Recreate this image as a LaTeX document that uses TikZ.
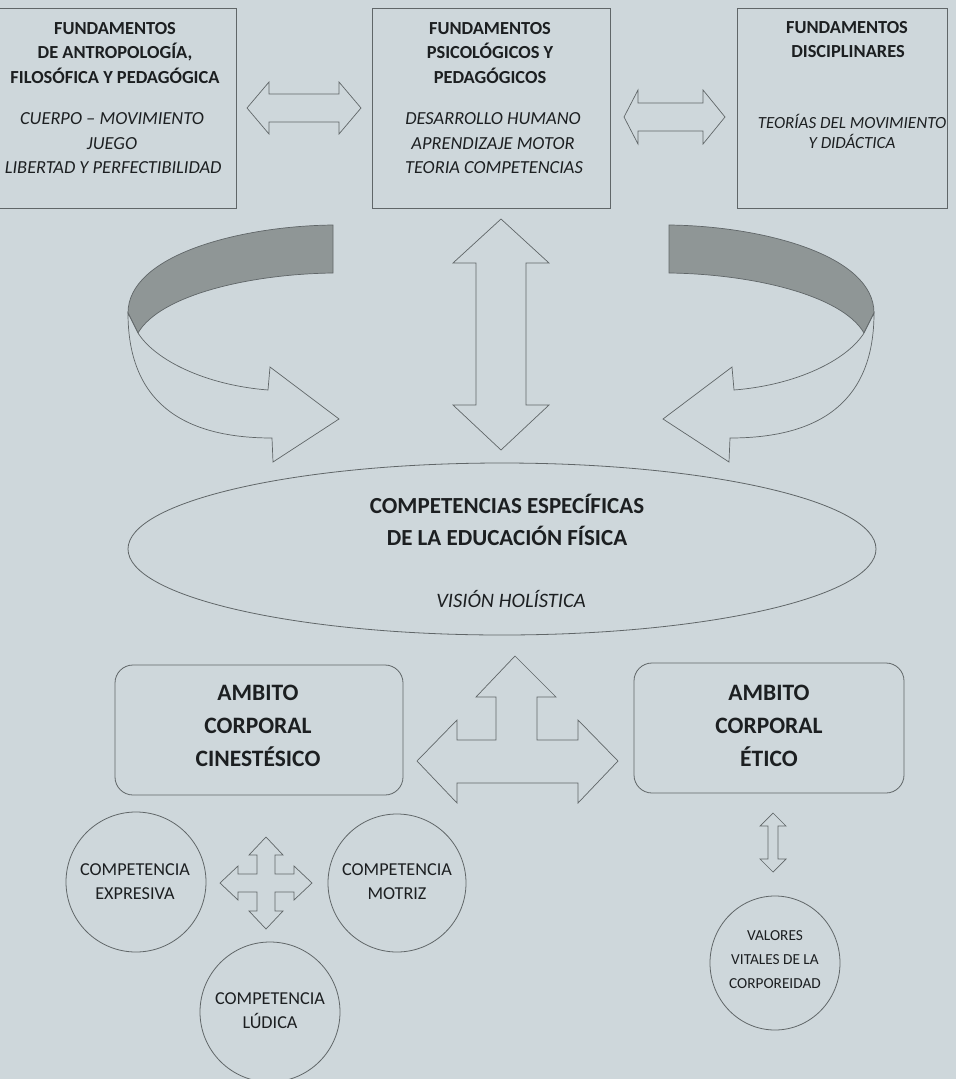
\documentclass[tikz,border=0pt]{standalone}
\usepackage{fontspec}
\setmainfont{Carlito}

\definecolor{paper}{RGB}{206,215,219}
\definecolor{ink}{RGB}{28,31,33}
\definecolor{rule}{RGB}{96,102,104}
\definecolor{fold}{RGB}{143,150,150}

\begin{document}
\begin{tikzpicture}[x=1pt, y=-1pt, line width=0.8pt, line join=miter,
  frame/.style={draw=rule, line width=0.8pt},
  blockarrow/.style={draw=rule, line width=0.7pt, fill=paper},
  backface/.style={draw=rule, line width=0.7pt, fill=fold},
  txt/.style={anchor=base, inner sep=0pt, text=ink},
  headtxt/.style={txt, font=\bfseries\fontsize{18.4}{22}\selectfont},
  subtxt/.style={txt, font=\itshape\fontsize{18.4}{22}\selectfont},
  midtxt/.style={txt, font=\bfseries\fontsize{23}{27}\selectfont},
  ambtxt/.style={txt, font=\bfseries\fontsize{23.5}{28}\selectfont},
  comptxt/.style={txt, font=\fontsize{18.2}{22}\selectfont},
  valtxt/.style={txt, font=\fontsize{15.3}{18}\selectfont}]

  %% background of the page
  \fill[paper] (0,0) rectangle (956,1079);

  %% ---- top row: three boxes ----
  \draw[frame] (-6,8) rectangle (236,208);
  \draw[frame] (372,8) rectangle (610,208);
  \draw[frame] (737,8) rectangle (947,208);

  \node[headtxt] (antro1) at (115,34) {FUNDAMENTOS};
  \node[headtxt] (antro2) at (115,58.5) {DE ANTROPOLOGÍA,};
  \node[headtxt] (antro3) at (115,83) {FILOSÓFICA Y PEDAGÓGICA};
  \node[subtxt] (antro4) at (112,124) {CUERPO – MOVIMIENTO};
  \node[subtxt] (antro5) at (112,149) {JUEGO};
  \node[subtxt, anchor=base east] (antro6) at (222,173.5) {LIBERTAD Y PERFECTIBILIDAD};

  \node[headtxt] (psico1) at (490,34) {FUNDAMENTOS};
  \node[headtxt] (psico2) at (490,58.5) {PSICOLÓGICOS Y};
  \node[headtxt] (psico3) at (490,83) {PEDAGÓGICOS};
  \node[subtxt] (psico4) at (493,124) {DESARROLLO HUMANO};
  \node[subtxt] (psico5) at (493,149) {APRENDIZAJE MOTOR};
  \node[subtxt] (psico6) at (494,173.5) {TEORIA COMPETENCIAS};

  \node[headtxt] (disc1) at (847,33) {FUNDAMENTOS};
  \node[headtxt] (disc2) at (848,57) {DISCIPLINARES};
  \node[subtxt, font=\itshape\fontsize{17}{20}\selectfont] (disc3) at (852,128) {TEORÍAS DEL MOVIMIENTO};
  \node[subtxt, font=\itshape\fontsize{17}{20}\selectfont] (disc4) at (852,148) {Y DIDÁCTICA};

  %% double arrows between the boxes
  \draw[blockarrow] (247,108) -- (269,82) -- (269,94) -- (339,94) -- (339,82) -- (361,108)
    -- (339,134) -- (339,122) -- (269,122) -- (269,134) -- cycle;
  \draw[blockarrow] (624,117) -- (638,90) -- (638,103) -- (703,103) -- (703,90) -- (725,117)
    -- (703,144) -- (703,131) -- (638,131) -- (638,144) -- cycle;

  %% ---- curved ribbon arrows (left one, then its mirror) ----
  \foreach \flip/\off in {1/0, -1/1002} {
    \begin{scope}[shift={(\off,0)}, xscale=\flip]
      \draw[backface] (333,225) .. controls (240,226) and (128,255) .. (128,313)
        -- (138,333) .. controls (160,295) and (250,274) .. (333,273) -- cycle;
      \draw[blockarrow] (128,313) .. controls (128,400) and (180,438) .. (272,438)
        -- (273,462) -- (339,419) -- (270,367) -- (268,390)
        .. controls (205,385) and (155,360) .. (138,333) -- cycle;
    \end{scope}
  }

  %% vertical double arrow in the middle
  \draw[blockarrow] (501,219) -- (549,263) -- (526,263) -- (526,405) -- (549,405) -- (501,450)
    -- (453,405) -- (476,405) -- (476,263) -- (453,263) -- cycle;

  %% ---- central ellipse ----
  \draw[frame] (502,549) ellipse [x radius=374, y radius=86];
  \node[midtxt] (comp1) at (507,513) {COMPETENCIAS ESPECÍFICAS};
  \node[midtxt] (comp2) at (507,545) {DE LA EDUCACIÓN FÍSICA};
  \node[txt, font=\itshape\fontsize{20.5}{24}\selectfont] (comp3) at (511,607) {VISIÓN HOLÍSTICA};

  %% ---- lower row: rounded boxes ----
  \draw[frame, rounded corners=18pt] (115,665) rectangle (403,795);
  \draw[frame, rounded corners=18pt] (634,663) rectangle (904,793);

  \node[ambtxt] (cine1) at (258,700) {AMBITO};
  \node[ambtxt] (cine2) at (258,733) {CORPORAL};
  \node[ambtxt] (cine3) at (258,766) {CINESTÉSICO};
  \node[ambtxt] (etico1) at (769,700) {AMBITO};
  \node[ambtxt] (etico2) at (769,733) {CORPORAL};
  \node[ambtxt] (etico3) at (769,766) {ÉTICO};

  %% three-way arrow between the rounded boxes
  \draw[blockarrow] (515,656) -- (556,697) -- (537,697) -- (537,740) -- (578,740) -- (578,720)
    -- (618,761) -- (578,803) -- (578,783) -- (457,783) -- (457,803) -- (417,761)
    -- (457,720) -- (457,740) -- (496,740) -- (496,697) -- (476,697) -- cycle;

  %% small double arrow under the right box
  \draw[blockarrow] (773,813) -- (786,826) -- (778,826) -- (778,859) -- (786,859) -- (773,872)
    -- (760,859) -- (768,859) -- (768,826) -- (760,826) -- cycle;

  %% four-way arrow among the circles
  \draw[blockarrow] (266,837) -- (283,855) -- (275,855) -- (275,874) -- (294,874) -- (294,866)
    -- (312,883) -- (294,900) -- (294,892) -- (275,892) -- (275,911) -- (283,911)
    -- (266,929) -- (249,911) -- (257,911) -- (257,892) -- (238,892) -- (238,900)
    -- (220,883) -- (238,866) -- (238,874) -- (257,874) -- (257,855) -- (249,855) -- cycle;

  %% ---- circles ----
  \draw[frame] (136,882) circle (70);
  \draw[frame] (397,883) circle (69);
  \draw[frame] (270,1012) circle (70);
  \draw[frame] (775,963) ellipse [x radius=65, y radius=67];

  \node[comptxt] (expr1) at (135,875) {COMPETENCIA};
  \node[comptxt] (expr2) at (135,899) {EXPRESIVA};
  \node[comptxt] (motr1) at (397,875) {COMPETENCIA};
  \node[comptxt] (motr2) at (397,899) {MOTRIZ};
  \node[comptxt] (ludi1) at (270,1004) {COMPETENCIA};
  \node[comptxt] (ludi2) at (270,1028) {LÚDICA};
  \node[valtxt] (vital1) at (775,940) {VALORES};
  \node[valtxt] (vital2) at (775,964) {VITALES DE LA};
  \node[valtxt] (vital3) at (775,988) {CORPOREIDAD};

  \pgfresetboundingbox
  \path[use as bounding box] (0,0) rectangle (956,1079);
\end{tikzpicture}
\end{document}
